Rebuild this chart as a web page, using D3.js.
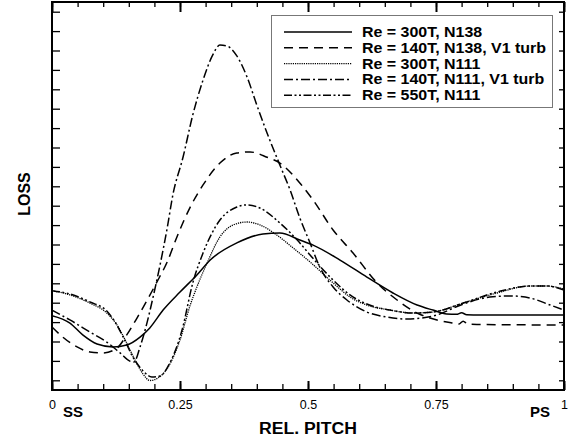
<!DOCTYPE html>
<html>
<head>
<meta charset="utf-8">
<script src="https://cdn.jsdelivr.net/npm/d3@7"></script>
<style>
  html, body { margin: 0; padding: 0; background: #fff; }
  svg { display: block; }
  text { font-family: "Liberation Sans", Arial, Helvetica, sans-serif; fill: #000; }
</style>
</head>
<body>
<svg id="chart" width="581" height="442"></svg>
<script>
// ---------------- data ----------------
const seriesNames = [
  "Re = 300T, N138",
  "Re = 140T, N138, V1 turb",
  "Re = 300T, N111",
  "Re = 140T, N111, V1 turb",
  "Re = 550T, N111"
];

const pitchA = [0,0.035,0.06,0.088,0.119,0.146,0.172,0.191,0.217,0.25,0.283,0.309,0.361,0.412,0.445,0.484,0.51,0.5625,0.615,0.666,0.713,0.744,0.771,0.79,0.80,0.81,0.836,0.914,1];
const lossA  = [3.83,3.45,2.84,2.37,2.22,2.32,2.73,3.20,4.12,5.05,5.93,6.70,7.58,8.04,8.09,7.73,7.47,6.70,5.82,5.00,4.38,4.12,3.92,3.90,3.98,3.88,3.87,3.87,3.87];

const pitchB = [0,0.021,0.049,0.074,0.1,0.127,0.146,0.166,0.186,0.205,0.225,0.244,0.27,0.295,0.328,0.361,0.387,0.42,0.445,0.484,0.51,0.549,0.588,0.635,0.674,0.713,0.752,0.783,0.795,0.803,0.812,0.83,1];
const lossB  = [3.25,2.73,2.22,1.96,1.91,2.16,2.84,3.71,4.64,5.57,6.60,7.89,9.43,10.57,11.70,12.22,12.27,12.00,11.70,10.67,9.79,8.25,7.06,5.52,4.64,3.97,3.61,3.45,3.40,3.55,3.40,3.38,3.35];

const pitchC = [0,0.035,0.074,0.107,0.127,0.143,0.162,0.178,0.191,0.207,0.227,0.25,0.27,0.283,0.303,0.328,0.354,0.381,0.406,0.439,0.471,0.504,0.549,0.582,0.615,0.66,0.705,0.744,0.803,0.869,0.934,0.967,1];
const lossC  = [5.12,4.90,4.48,3.97,3.35,2.58,1.55,0.82,0.49,0.62,1.19,2.58,4.38,5.31,6.55,7.89,8.51,8.66,8.51,7.99,7.32,6.60,5.52,4.79,4.38,4.12,3.97,4.02,4.48,5.00,5.36,5.36,5.20];

const pitchD = [0,0.035,0.074,0.107,0.133,0.152,0.160,0.172,0.186,0.197,0.211,0.225,0.236,0.256,0.275,0.295,0.314,0.328,0.342,0.361,0.381,0.400,0.420,0.445,0.465,0.484,0.504,0.523,0.549,0.576,0.615,0.654,0.693,0.744,0.803,0.855,0.895,0.934,0.973,1];
const lossD  = [4.12,3.61,2.99,2.47,1.91,1.49,1.44,2.22,3.51,4.74,6.44,8.35,10.05,12.01,14.18,15.98,17.27,17.78,17.73,17.22,16.13,14.69,13.25,11.60,10.31,8.87,7.58,6.34,5.31,4.64,4.02,3.76,3.66,3.81,4.43,4.79,4.85,4.74,4.38,4.12];

const pitchE = [0,0.035,0.074,0.107,0.123,0.139,0.158,0.178,0.195,0.211,0.23,0.254,0.275,0.295,0.328,0.361,0.381,0.406,0.445,0.479,0.504,0.549,0.582,0.615,0.66,0.705,0.744,0.803,0.869,0.934,0.967,1];
const lossE  = [5.12,4.95,4.54,4.07,3.51,2.73,1.70,0.98,0.67,0.72,1.39,3.09,5.52,7.06,8.76,9.43,9.54,9.38,8.61,7.73,6.96,5.67,4.90,4.43,4.12,3.97,4.02,4.48,5.05,5.36,5.36,5.15];

const xTickLabels = ["0", "0.25", "0.5", "0.75", "1"];
const xMajorTicks = [0, 0.25, 0.5, 0.75, 1];
const xMinorTicks = d3.range(0, 21).map(i => i * 0.05);
const yMinorTicks = d3.range(0, 20).map(i => i + 0.5);

const pitchSets = [pitchA, pitchB, pitchC, pitchD, pitchE];
const lossSets  = [lossA, lossB, lossC, lossD, lossE];
const dashes = [null, "9,6", "1.2,1", "9,3,2,3", "8,2.5,2,2.5,2,2.5"];
const widths = [1.5, 1.5, 1.3, 1.5, 1.5];

// ---------------- layout ----------------
const svg = d3.select("#chart");
const L = 52, R = 564, T = 2, B = 390;
const x = d3.scaleLinear().domain([0, 1]).range([L, R]);
const y = d3.scaleLinear().domain([0, 20]).range([B, T]);

// clip
svg.append("defs").append("clipPath").attr("id", "clip")
  .append("rect").attr("x", L).attr("y", T).attr("width", R - L).attr("height", B - T);

// curves
const line = d3.line().x(d => x(d[0])).y(d => y(d[1])).curve(d3.curveMonotoneX);
const gCurves = svg.append("g").attr("clip-path", "url(#clip)");
pitchSets.forEach((px, i) => {
  const pts = px.map((v, j) => [v, lossSets[i][j]]);
  gCurves.append("path")
    .attr("d", line(pts))
    .attr("fill", "none")
    .attr("stroke", "#000")
    .attr("stroke-width", widths[i])
    .attr("stroke-dasharray", dashes[i]);
});

// axes (ticks pointing inward)
const bottomMinor = d3.axisBottom(x).tickValues(xMinorTicks).tickSizeInner(-6).tickSizeOuter(0).tickFormat("");
const bottomMajor = d3.axisBottom(x).tickValues(xMajorTicks).tickSizeInner(-9).tickSizeOuter(0)
  .tickFormat((d, i) => xTickLabels[i]).tickPadding(8);
const topMinor = d3.axisTop(x).tickValues(xMinorTicks).tickSizeInner(-5).tickSizeOuter(0).tickFormat("");
const topMajor = d3.axisTop(x).tickValues(xMajorTicks).tickSizeInner(-10).tickSizeOuter(0).tickFormat("");
const leftAx = d3.axisLeft(y).tickValues(yMinorTicks).tickSizeInner(-8).tickSizeOuter(0).tickFormat("");
const rightAx = d3.axisRight(y).tickValues(yMinorTicks).tickSizeInner(-5).tickSizeOuter(0).tickFormat("");

function styleAxis(g) {
  g.select(".domain").remove();
  g.selectAll(".tick line").attr("stroke", "#000").attr("stroke-width", 1.3);
}
svg.append("g").attr("transform", `translate(0,${B})`).call(bottomMinor).call(styleAxis);
const gb = svg.append("g").attr("transform", `translate(0,${B})`).call(bottomMajor).call(styleAxis);
gb.selectAll(".tick line").attr("stroke-width", 2);
gb.selectAll(".tick text").attr("font-size", "12.5px").attr("font-family", "'Liberation Sans', Arial, sans-serif")
  .attr("y", 10).attr("dy", "0.71em");
svg.append("g").attr("transform", `translate(0,${T})`).call(topMinor).call(styleAxis);
svg.append("g").attr("transform", `translate(0,${T})`).call(topMajor).call(styleAxis)
  .selectAll(".tick line").attr("stroke-width", 2);
svg.append("g").attr("transform", `translate(${L},0)`).call(leftAx).call(styleAxis);
svg.append("g").attr("transform", `translate(${R},0)`).call(rightAx).call(styleAxis);

// frame
svg.append("rect").attr("x", L).attr("y", T).attr("width", R - L).attr("height", B - T)
  .attr("fill", "none").attr("stroke", "#000").attr("stroke-width", 2);

// axis titles
function stretch(sel, factor) {
  sel.each(function () {
    const w = this.getComputedTextLength();
    d3.select(this).attr("textLength", w * factor).attr("lengthAdjust", "spacingAndGlyphs");
  });
}
svg.append("text").attr("x", 308).attr("y", 434).attr("text-anchor", "middle")
  .attr("font-size", "16px").attr("font-weight", "bold").text("REL. PITCH").call(stretch, 1.1);
svg.append("text").attr("transform", "translate(30,194) rotate(-90)").attr("text-anchor", "middle")
  .attr("font-size", "16px").attr("font-weight", "bold").text("LOSS");
svg.append("text").attr("x", 63).attr("y", 417)
  .attr("font-size", "15px").attr("font-weight", "bold").text("SS");
svg.append("text").attr("x", 550).attr("y", 417).attr("text-anchor", "end")
  .attr("font-size", "15px").attr("font-weight", "bold").text("PS");

// legend
const lg = svg.append("g");
lg.append("rect").attr("x", 271.5).attr("y", 15.5).attr("width", 281).attr("height", 92)
  .attr("fill", "#fff").attr("stroke", "#777").attr("stroke-width", 1);
seriesNames.forEach((name, i) => {
  const cy = 32 + i * 15.8;
  lg.append("line").attr("x1", 284).attr("x2", 352).attr("y1", cy).attr("y2", cy)
    .attr("stroke", "#000").attr("stroke-width", widths[i]).attr("stroke-dasharray", dashes[i]);
  lg.append("text").attr("x", 362).attr("y", cy + 5)
    .attr("font-size", "14px").attr("font-weight", "bold").text(name).call(stretch, 1.14);
});
</script>
</body>
</html>
